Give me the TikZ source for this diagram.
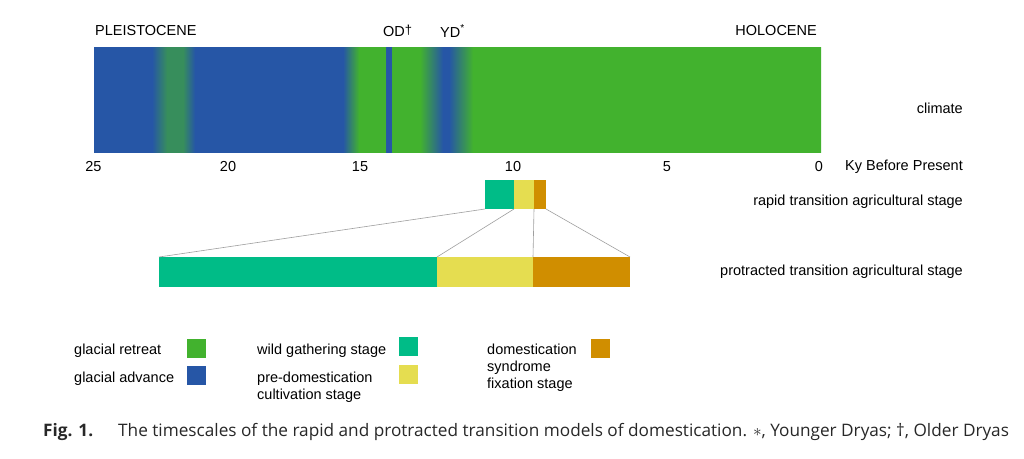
\documentclass[tikz,border=0pt]{standalone}
\usepackage{fontspec}
\setmainfont{Liberation Sans}
\newfontfamily\capfont{Open Sans}
\definecolor{cblue}{RGB}{38,86,166}
\definecolor{cgreen}{RGB}{66,178,46}
\definecolor{cteal}{RGB}{0,188,135}
\definecolor{cyellow}{RGB}{229,221,80}
\definecolor{corange}{RGB}{208,142,0}
\definecolor{cmix}{RGB}{55,142,92}
\definecolor{captext}{RGB}{40,40,40}
\pgfdeclarehorizontalshading{climshade}{105pt}{%
  color(0pt)=(cblue); color(59pt)=(cblue); color(74pt)=(cmix); color(90pt)=(cmix);
  color(102pt)=(cblue); color(250pt)=(cblue); color(266pt)=(cgreen); color(292.9pt)=(cgreen);
  color(293pt)=(cblue); color(298.9pt)=(cblue); color(299pt)=(cgreen); color(327pt)=(cgreen);
  color(350pt)=(cblue); color(356pt)=(cblue); color(380pt)=(cgreen); color(728pt)=(cgreen)}
\begin{document}
\begin{tikzpicture}[x=1pt,y=-1pt,
  lbl/.style={font=\fontsize{14.5}{16}\selectfont, inner sep=0pt},
  leg/.style={font=\fontsize{14.5}{17}\selectfont, inner sep=0pt, align=left, anchor=north west},
  stagebox/.style={inner sep=0pt, minimum height=29pt, anchor=north west, outer sep=0pt},
  protbox/.style={inner sep=0pt, minimum height=30pt, anchor=north west, outer sep=0pt},
  swatch/.style={inner sep=0pt, minimum width=19pt, minimum height=19pt, anchor=north west},
  link/.style={draw=gray!75, line width=0.6pt}]
\useasboundingbox (0,0) rectangle (1024,458);
\fill[white] (0,0) rectangle (1024,458);
% climate bar
\node[inner sep=0pt, outer sep=0pt, anchor=north west] (bar) at (93,47) {\pgfuseshading{climshade}};
% top labels
\node[lbl, anchor=west] (pleis) at (95,31) {PLEISTOCENE};
\node[lbl, anchor=east] (holo) at (817,31) {HOLOCENE};
\node[lbl, anchor=west] (od) at (383,31) {OD\raisebox{2pt}{\fontsize{13}{13}\selectfont †}};
\node[lbl, anchor=west] (yd) at (440,31) {YD\textsuperscript{*}};
% axis
\node[lbl] (t25) at (93.5,167) {25};
\node[lbl] (t20) at (228,167) {20};
\node[lbl] (t15) at (360,167) {15};
\node[lbl] (t10) at (513,167) {10};
\node[lbl] (t5) at (667,167) {5};
\node[lbl] (t0) at (819,167) {0};
\node[lbl, anchor=east] (ky) at (963,167) {Ky Before Present};
\node[lbl, anchor=east] (clim) at (963,108) {climate};
% rapid transition
\node[stagebox, fill=cteal, minimum width=29pt] (rW) at (485,180) {};
\node[stagebox, fill=cyellow, minimum width=20pt] (rP) at (514,180) {};
\node[stagebox, fill=corange, minimum width=12pt] (rD) at (534,180) {};
\node[lbl, anchor=east] (rlab) at (963,202) {rapid transition agricultural stage};
% protracted transition
\node[protbox, fill=cteal, minimum width=278pt] (pW) at (159,257) {};
\node[protbox, fill=cyellow, minimum width=96pt] (pP) at (437,257) {};
\node[protbox, fill=corange, minimum width=97pt] (pD) at (533,257) {};
\node[lbl, anchor=east] (plab) at (963,272) {protracted transition agricultural stage};
% links
\draw[link] (rW.south west) -- (pW.north west);
\draw[link] (rP.south west) -- (pP.north west);
\draw[link] (rD.south west) -- (pD.north west);
\draw[link] (rD.south east) -- (pD.north east);
% legend
\node[leg] (lgr) at (74,343.5) {glacial retreat};
\node[swatch, fill=cgreen] (sgr) at (187,339) {};
\node[leg] (lga) at (74,371.5) {glacial advance};
\node[swatch, fill=cblue] (sga) at (187,366) {};
\node[leg] (lwg) at (257,343.5) {wild gathering stage};
\node[swatch, fill=cteal] (swg) at (399,337) {};
\node[leg] (lpd) at (257,371.5) {pre-domestication\\cultivation stage};
\node[swatch, fill=cyellow] (spd) at (399,365) {};
\node[leg] (ldo) at (487,343.5) {domestication\\syndrome\\fixation stage};
\node[swatch, fill=corange] (sdo) at (591,339) {};
% caption
\node[inner sep=0pt, anchor=west, text=captext, font=\capfont\bfseries\fontsize{17.2}{20}\selectfont] (figno) at (43,432) {Fig.\hspace{6pt}1.};
\node[inner sep=0pt, anchor=west, text=captext, font=\capfont\fontsize{17.2}{20}\selectfont] (cap) at (118,432) {The timescales of the rapid and protracted transition models of domestication. $\ast$, Younger Dryas; †, Older Dryas};
\end{tikzpicture}
\end{document}
